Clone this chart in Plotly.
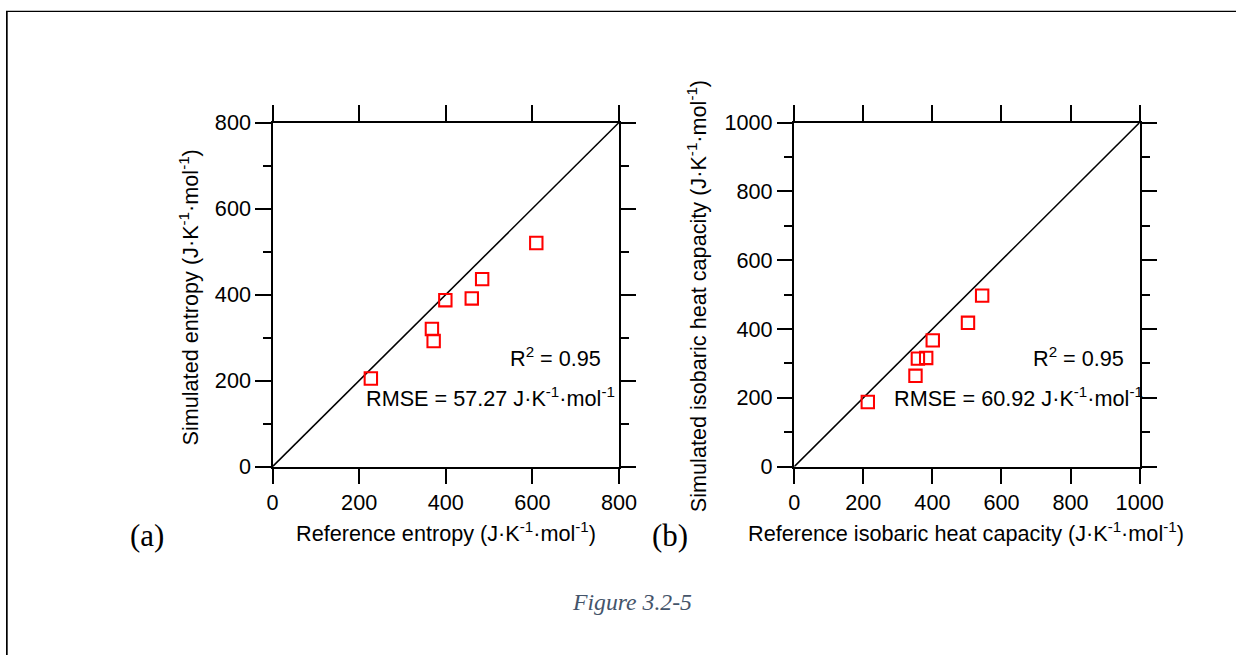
import plotly.graph_objects as go

# The capture shows the page (with its default 8px body margin) shrunk into
# 1244x660; positions below are given in final-picture pixels and converted.
M = 8
SX, SY = 1244 / 1276, 660 / 684
W, H = 1260, 668
DX, DY = 1, 3.5
K = 2 / (SX + SY)  # size compensation

# ---- data ----
entropy_ref = [227, 368, 372, 399, 460, 484, 609]
entropy_sim = [205, 320, 292, 387, 391, 436, 520]
cp_ref = [213, 351, 358, 382, 401, 503, 544]
cp_sim = [188, 264, 314, 316, 367, 418, 497]
identity_a = [0, 800]
identity_b = [0, 1000]
ticks_a = [0, 200, 400, 600, 800]
ticks_b = [0, 200, 400, 600, 800, 1000]

FONT = "Liberation Sans, Arial, sans-serif"
SERIF = "Liberation Serif, Times New Roman, serif"
FS = 21 * K

def px_x(x):
    return ((x + DX) / SX - M) / W

def px_y(y):
    return 1 - ((y - DY) / SY - M) / H

fig = go.Figure()

marker = dict(symbol="square-open", size=12 * K, color="#ff0000",
              line=dict(width=2 * K, color="#ff0000"))

fig.add_trace(go.Scatter(x=identity_a, y=identity_a, mode="lines",
                         line=dict(color="black", width=1.5 * K), xaxis="x", yaxis="y",
                         showlegend=False, hoverinfo="skip"))
fig.add_trace(go.Scatter(x=entropy_ref, y=entropy_sim, mode="markers", marker=marker,
                         xaxis="x", yaxis="y", showlegend=False))
fig.add_trace(go.Scatter(x=identity_b, y=identity_b, mode="lines",
                         line=dict(color="black", width=1.5 * K), xaxis="x2", yaxis="y2",
                         showlegend=False, hoverinfo="skip"))
fig.add_trace(go.Scatter(x=cp_ref, y=cp_sim, mode="markers", marker=marker,
                         xaxis="x2", yaxis="y2", showlegend=False))

common = dict(showgrid=False, zeroline=False, showline=True, linecolor="black",
              linewidth=1.5 * K, ticks="outside", ticklen=15 * K, tickwidth=1.5 * K,
              tickcolor="black", mirror="allticks",
              tickfont=dict(family=FONT, size=FS, color="black"))
minor = dict(dtick=100, ticks="outside", ticklen=8 * K, tickwidth=1.5 * K, tickcolor="black")

ydom = [px_y(467), px_y(122)]

fig.update_layout(
    width=W, height=H,
    margin=dict(l=0, r=0, t=0, b=0),
    paper_bgcolor="white", plot_bgcolor="white",
    xaxis=dict(domain=[px_x(273), px_x(619)], range=[0, 800], tickvals=ticks_a,
               anchor="y", **common),
    yaxis=dict(domain=ydom, range=[0, 800], tickvals=ticks_a, anchor="x",
               minor=minor, **common),
    xaxis2=dict(domain=[px_x(794), px_x(1139)], range=[0, 1000], tickvals=ticks_b,
                anchor="y2", **common),
    yaxis2=dict(domain=ydom, range=[0, 1000], tickvals=ticks_b, anchor="x2",
                minor=minor, **common),
)

unit = "(J·K<sup>-1</sup>·mol<sup>-1</sup>)"
ann = []
def add(text, x, y, size=FS, family=FONT, angle=0, xanchor="center", yanchor="middle", color="black", italic=False):
    t = f"<i>{text}</i>" if italic else text
    ann.append(dict(text=t, x=px_x(x), y=px_y(y), xref="paper", yref="paper",
                    showarrow=False, textangle=angle, xanchor=xanchor, yanchor=yanchor,
                    font=dict(family=family, size=size, color=color)))

add("Simulated entropy " + unit, 190, 297, angle=-90)
add("Simulated isobaric heat capacity " + unit, 697, 296, angle=-90)
add("Reference entropy " + unit, 446, 532)
add("Reference isobaric heat capacity " + unit, 966, 532)
add("R<sup>2</sup> = 0.95", 603, 357, xanchor="right")
add("RMSE = 57.27 J·K<sup>-1</sup>·mol<sup>-1</sup>", 617, 397, xanchor="right")
add("R<sup>2</sup> = 0.95", 1125, 357, xanchor="right")
add("RMSE = 60.92 J·K<sup>-1</sup>·mol<sup>-1</sup>", 1144, 397, xanchor="right")
add("(a)", 148, 536, size=30 * K, family=SERIF)
add("(b)", 670, 536, size=30 * K, family=SERIF)
add("Figure 3.2-5", 632, 603, size=23 * K, family=SERIF, color="#44546A", italic=True)

fig.update_layout(annotations=ann)

# outer frame (only its left and top edges fall inside the picture)
fig.add_shape(type="rect", xref="paper", yref="paper",
              x0=0, x1=px_x(8.5), y0=0, y1=1,
              line=dict(width=0), fillcolor="black", layer="below")
fig.add_shape(type="rect", xref="paper", yref="paper",
              x0=0, x1=1, y0=px_y(10), y1=1,
              line=dict(width=0), fillcolor="black", layer="below")

fig.write_html("out.html")
